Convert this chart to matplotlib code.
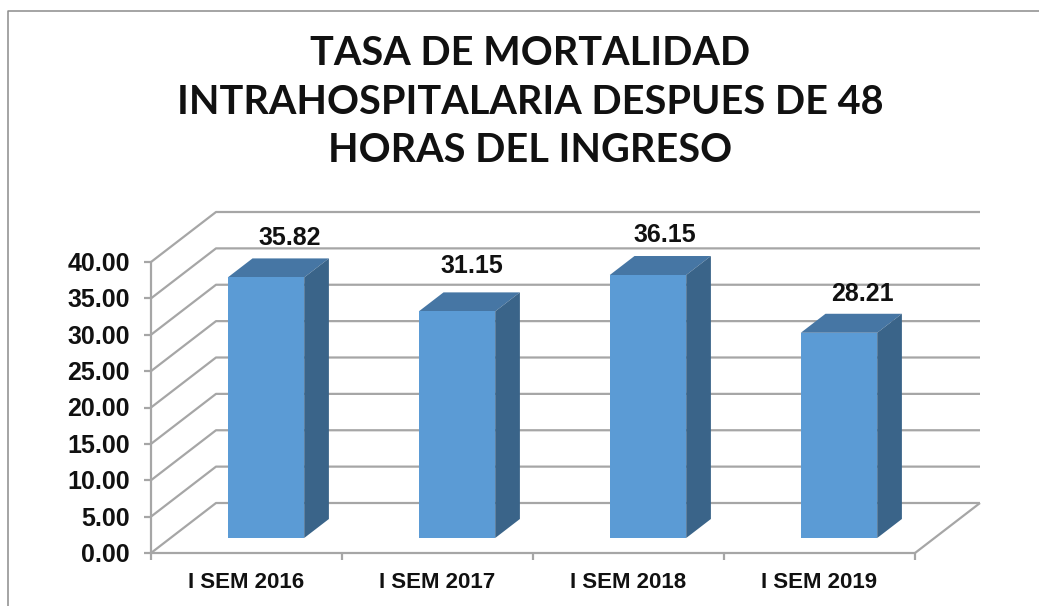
import matplotlib
matplotlib.use('Agg')
import matplotlib.pyplot as plt
from matplotlib.patches import Polygon

# Data
categories = ['I SEM 2016', 'I SEM 2017', 'I SEM 2018', 'I SEM 2019']
values = [35.82, 31.15, 36.15, 28.21]
y_ticks = [0, 5, 10, 15, 20, 25, 30, 35, 40]
title = 'TASA DE MORTALIDAD\nINTRAHOSPITALARIA DESPUES DE 48\nHORAS DEL INGRESO'

W, H = 1039, 606
FONT = ['Liberation Sans', 'DejaVu Sans']
TITLE_FONT = ['Lato', 'DejaVu Sans']

fig = plt.figure(figsize=(W / 100, H / 100), dpi=100)

# axes = the front plane of the fake 3D box
left, right, bottom, top = 151, 915, 553, 262
ax = fig.add_axes([left / W, 1 - bottom / H, (right - left) / W, (bottom - top) / H])
ax.set_xlim(0, 4)
ax.set_ylim(0, 40)
ax.axis('off')

# depth of the box in data units
depth_x = 65 / 191
depth_y = 50 / 7.275

grid = '#a6a6a6'
front = '#5b9bd5'
roof = '#4676a4'
side = '#3a6489'
px = 0.72  # points per pixel at dpi 100


def line(xs, ys, z=1):
    ax.plot(xs, ys, color=grid, lw=1.6, zorder=z, clip_on=False, solid_capstyle='butt')


# walls
for v in y_ticks:
    line([0, depth_x, 4 + depth_x], [v, v + depth_y, v + depth_y])
    line([-7 / 191, 0], [v, v])
line([0, 0], [0, 40])
line([0, 4], [0, 0])
line([4, 4 + depth_x], [0, depth_y])
for i in range(5):
    line([i, i], [0, -7 / 7.275])

# bars
bar_pos = 0.3
bar_depth = 0.38
bar_w = 0.4
# data labels were moved by hand in the original
label_nudge = [(-39, 20), (-48, 26), (-46, 21), (-39, 20)]
for i, v in enumerate(values):
    x0 = i + 0.5 + bar_pos * depth_x - bar_w / 2
    x1 = x0 + bar_w
    y0 = bar_pos * depth_y
    y1 = y0 + v
    dx = bar_depth * depth_x
    dy = bar_depth * depth_y
    ax.add_patch(Polygon([(x0, y0), (x1, y0), (x1, y1), (x0, y1)], fc=front, ec='none', zorder=4, clip_on=False))
    ax.add_patch(Polygon([(x0, y1), (x1, y1), (x1 + dx, y1 + dy), (x0 + dx, y1 + dy)], fc=roof, ec='none', zorder=3, clip_on=False))
    ax.add_patch(Polygon([(x1, y0), (x1 + dx, y0 + dy), (x1 + dx, y1 + dy), (x1, y1)], fc=side, ec='none', zorder=3, clip_on=False))
    nx, ny = label_nudge[i]
    ax.annotate(f'{v:.2f}', (x1 + dx, y1 + dy), xytext=(nx * px, ny * px), textcoords='offset points',
                ha='center', va='center', fontsize=18, fontweight='bold', family=FONT, color='#111111',
                zorder=6, annotation_clip=False)

# tick labels
for v in y_ticks:
    ax.annotate(f'{v:.2f}', (0, v), xytext=(-21 * px, -2 * px), textcoords='offset points',
                ha='right', va='center', fontsize=18, fontweight='bold', family=FONT, color='#111111',
                annotation_clip=False)
for i, c in enumerate(categories):
    ax.annotate(c, (i + 0.5, 0), xytext=(0, -30 * px), textcoords='offset points',
                ha='center', va='center', fontsize=16, fontweight='bold', family=FONT, color='#111111',
                annotation_clip=False)

fig.text(530 / W, 1 - 102 / H, title, ha='center', va='center', fontsize=28.5, fontweight='bold',
         family=TITLE_FONT, color='#111111', linespacing=1.38)

# chart frame, only top and left show in the crop
fig.add_artist(plt.Line2D([7.5 / W, 7.5 / W, 1], [0, 1 - 10.5 / H, 1 - 10.5 / H], color='#8c8c8c', lw=1.1))

fig.savefig('out.png', dpi=100)
